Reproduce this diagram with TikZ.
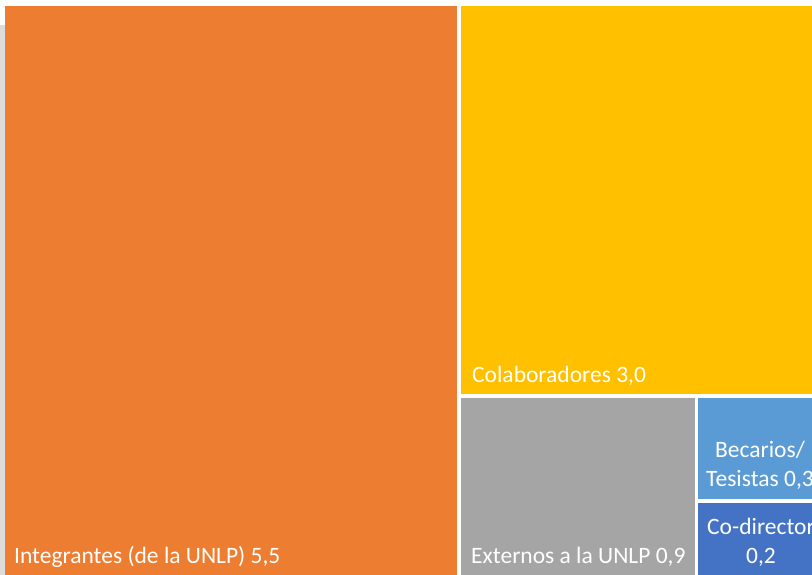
\documentclass[tikz,border=0pt]{standalone}
\usepackage{fontspec}
\setmainfont{Carlito}

\definecolor{integrantes}{HTML}{ED7D31}
\definecolor{colaboradores}{HTML}{FFC000}
\definecolor{externos}{HTML}{A5A5A5}
\definecolor{becarios}{HTML}{5B9BD5}
\definecolor{codirector}{HTML}{4472C4}
\definecolor{strip}{HTML}{DCDCDC}

\begin{document}
\begin{tikzpicture}
  [x=1pt, y=-1pt,
   every node/.style={text=white, inner sep=0pt, font=\fontsize{23.5}{29}\selectfont},
   tilelabel/.style={anchor=base west},
   smalllabel/.style={anchor=base, align=center}]
  \useasboundingbox (0,0) rectangle (812,575);
  \clip (0,0) rectangle (812,575);
  % tiles
  \fill[strip] (0,25) rectangle (5,580);
  \fill[integrantes] (5,6) rectangle (457,580);
  \fill[colaboradores] (461,6) rectangle (830,394);
  \fill[externos] (461,398) rectangle (695,580);
  \fill[becarios] (698,398) rectangle (830,499);
  \fill[codirector] (698,503) rectangle (830,580);
  % labels
  \node[tilelabel] (integ) at (14,563) {Integrantes (de la UNLP) 5,5};
  \node[tilelabel] (colab) at (472,382) {Colaboradores 3,0};
  \node[tilelabel] (ext) at (471,563) {Externos a la UNLP 0,9};
  \node[smalllabel] (becar) at (760,486) {Becarios/\\Tesistas 0,3};
  \node[smalllabel] (codir) at (761,563) {Co-director\\0,2};
\end{tikzpicture}
\end{document}
